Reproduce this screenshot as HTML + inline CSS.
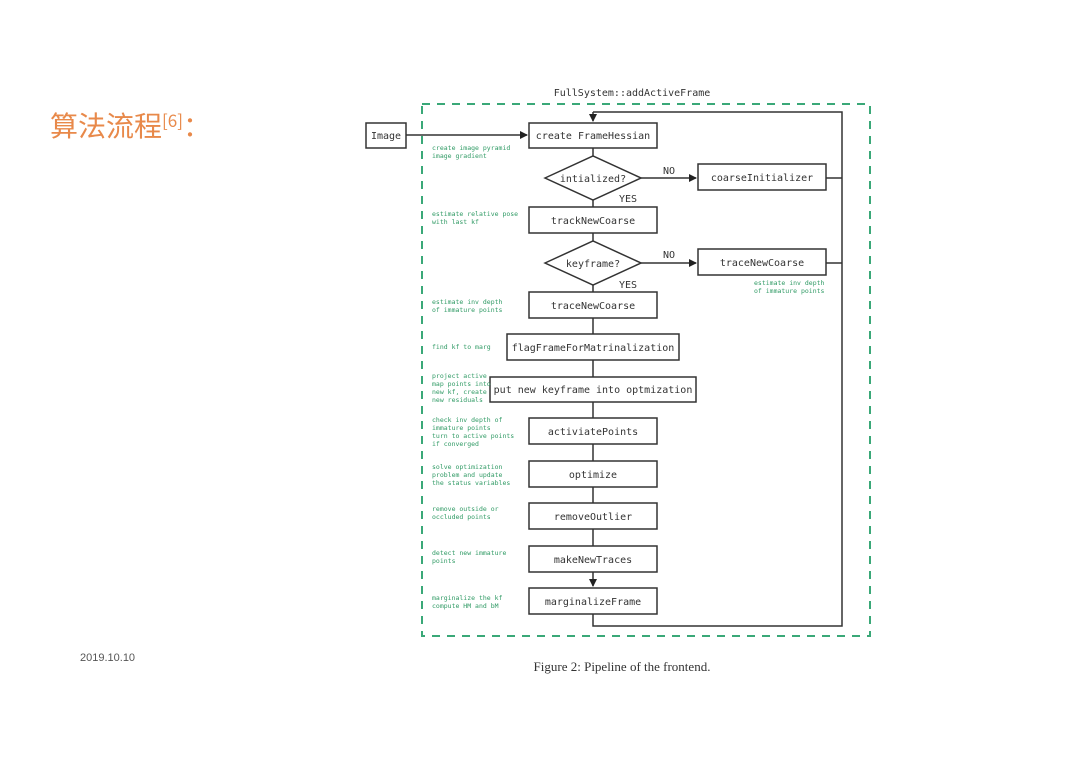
<!DOCTYPE html>
<html><head><meta charset="utf-8"><style>
html,body{margin:0;padding:0;background:#fff;}
body{width:1080px;height:763px;position:relative;overflow:hidden;}
</style></head><body>
<svg width="1080" height="763" viewBox="0 0 1080 763" xmlns="http://www.w3.org/2000/svg">
<defs><marker id="a" markerWidth="8" markerHeight="8" refX="7" refY="4" orient="auto" markerUnits="userSpaceOnUse"><path d="M0,0 L8,4 L0,8 z" fill="#222"/></marker></defs>
<text x="50" y="136" font-family="'Noto Sans CJK SC',sans-serif" font-size="28" fill="#e8894a">算法流程<tspan font-size="17" dy="-9">[6]</tspan><tspan dy="9">：</tspan></text>
<text x="80" y="661" font-family="'Liberation Sans',sans-serif" font-size="11" fill="#555">2019.10.10</text>
<text x="622" y="671" text-anchor="middle" font-family="'Liberation Serif',serif" font-size="13" fill="#333">Figure 2: Pipeline of the frontend.</text>
<text x="632" y="96" text-anchor="middle" font-family="'DejaVu Sans Mono',monospace" font-size="10" fill="#333">FullSystem::addActiveFrame</text>
<rect x="422" y="104" width="448" height="532" fill="none" stroke="#3aa878" stroke-width="2" stroke-dasharray="8,7"/>
<g stroke="#333" stroke-width="1.5" fill="none">
<line x1="406" y1="135" x2="527" y2="135" marker-end="url(#a)"/>
<line x1="593" y1="148" x2="593" y2="156"/>
<line x1="593" y1="200" x2="593" y2="207"/>
<line x1="593" y1="233" x2="593" y2="241"/>
<line x1="593" y1="285" x2="593" y2="292"/>
<line x1="593" y1="318" x2="593" y2="334"/>
<line x1="593" y1="360" x2="593" y2="377"/>
<line x1="593" y1="402" x2="593" y2="418"/>
<line x1="593" y1="444" x2="593" y2="461"/>
<line x1="593" y1="487" x2="593" y2="503"/>
<line x1="593" y1="529" x2="593" y2="546"/>
<line x1="593" y1="572" x2="593" y2="586" marker-end="url(#a)"/>
<line x1="641" y1="178" x2="696" y2="178" marker-end="url(#a)"/>
<line x1="641" y1="263" x2="696" y2="263" marker-end="url(#a)"/>
<polyline points="593,614 593,626 842,626 842,112 593,112"/>
<line x1="593" y1="112" x2="593" y2="121" marker-end="url(#a)"/>
<line x1="826" y1="178" x2="842" y2="178"/>
<line x1="826" y1="263" x2="842" y2="263"/>
<rect x="366" y="123" width="40" height="25" fill="#fff"/>
<rect x="529" y="123" width="128" height="25" fill="#fff"/>
<polygon points="545,178 593,156 641,178 593,200" fill="#fff"/>
<rect x="698" y="164" width="128" height="26" fill="#fff"/>
<rect x="529" y="207" width="128" height="26" fill="#fff"/>
<polygon points="545,263 593,241 641,263 593,285" fill="#fff"/>
<rect x="698" y="249" width="128" height="26" fill="#fff"/>
<rect x="529" y="292" width="128" height="26" fill="#fff"/>
<rect x="507" y="334" width="172" height="26" fill="#fff"/>
<rect x="490" y="377" width="206" height="25" fill="#fff"/>
<rect x="529" y="418" width="128" height="26" fill="#fff"/>
<rect x="529" y="461" width="128" height="26" fill="#fff"/>
<rect x="529" y="503" width="128" height="26" fill="#fff"/>
<rect x="529" y="546" width="128" height="26" fill="#fff"/>
<rect x="529" y="588" width="128" height="26" fill="#fff"/>
</g>
<g font-family="'DejaVu Sans Mono',monospace" font-size="10" fill="#333" text-anchor="middle">
<text x="386" y="139">Image</text>
<text x="593" y="139">create FrameHessian</text>
<text x="593" y="182">intialized?</text>
<text x="762" y="181">coarseInitializer</text>
<text x="593" y="224">trackNewCoarse</text>
<text x="593" y="267">keyframe?</text>
<text x="762" y="266">traceNewCoarse</text>
<text x="593" y="309">traceNewCoarse</text>
<text x="593" y="351">flagFrameForMatrinalization</text>
<text x="593" y="393">put new keyframe into optmization</text>
<text x="593" y="435">activiatePoints</text>
<text x="593" y="478">optimize</text>
<text x="593" y="520">removeOutlier</text>
<text x="593" y="563">makeNewTraces</text>
<text x="593" y="605">marginalizeFrame</text>
<text x="669" y="174">NO</text><text x="628" y="202">YES</text>
<text x="669" y="258">NO</text><text x="628" y="288">YES</text>
</g>
<g font-family="'DejaVu Sans Mono',monospace" font-size="6.5" fill="#2f9a64">
<text x="432" y="150">create image pyramid</text><text x="432" y="158">image gradient</text>
<text x="432" y="216">estimate relative pose</text><text x="432" y="224">with last kf</text>
<text x="754" y="285">estimate inv depth</text><text x="754" y="293">of immature points</text>
<text x="432" y="304">estimate inv depth</text><text x="432" y="312">of immature points</text>
<text x="432" y="349">find kf to marg</text>
<text x="432" y="378">project active</text><text x="432" y="386">map points into</text><text x="432" y="394">new kf, create</text><text x="432" y="402">new residuals</text>
<text x="432" y="422">check inv depth of</text><text x="432" y="430">immature points</text><text x="432" y="438">turn to active points</text><text x="432" y="446">if converged</text>
<text x="432" y="469">solve optimization</text><text x="432" y="477">problem and update</text><text x="432" y="485">the status variables</text>
<text x="432" y="511">remove outside or</text><text x="432" y="519">occluded points</text>
<text x="432" y="555">detect new immature</text><text x="432" y="563">points</text>
<text x="432" y="600">marginalize the kf</text><text x="432" y="608">compute HM and bM</text>
</g>
</svg>
</body></html>
